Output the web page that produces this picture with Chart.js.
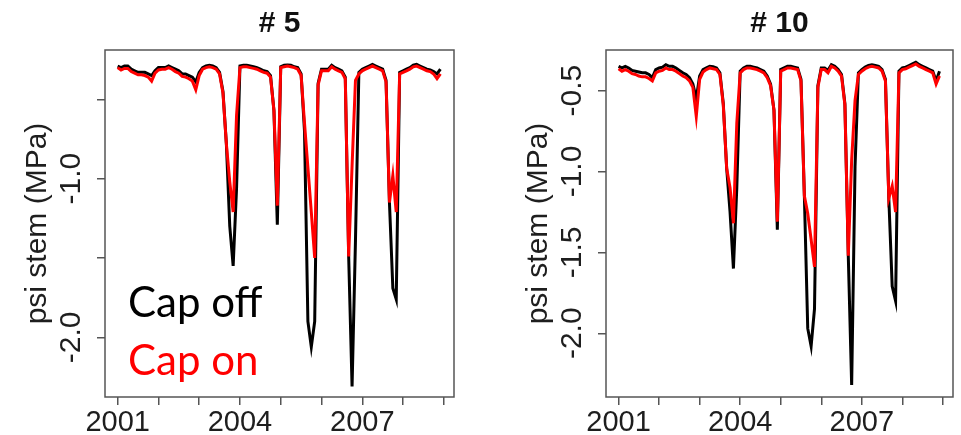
<!DOCTYPE html>
<html>
<head>
<meta charset="utf-8">
<script src="https://cdn.jsdelivr.net/npm/chart.js@4.4.1/dist/chart.umd.min.js"></script>
<style>
    body { margin: 0; background: #fff; }
    #page { position: relative; width: 961px; height: 435px; overflow: hidden; }
    .panel { position: absolute; top: 0; height: 435px; }
    #panel5 { left: 0; width: 480px; }
    #panel10 { left: 480px; width: 481px; }
    .note { position: absolute; left: 128px; font-family: Lato, "Open Sans", sans-serif; font-size: 42px; line-height: 42px; white-space: nowrap; }
    #capOff { top: 280px; color: #000; }
    #capOn { top: 338px; color: #ff0000; }
</style>
</head>
<body>
<div id="page">
    <div class="panel" id="panel5"><canvas id="chart5"></canvas></div>
    <div class="panel" id="panel10"><canvas id="chart10"></canvas></div>
    <div class="note" id="capOff">Cap off</div>
    <div class="note" id="capOn">Cap on</div>
</div>
<script>
// monthly series, Jan 2001 - Dec 2008
const years = [2001, 2002, 2003, 2004, 2005, 2006, 2007, 2008]
const yearTicks = [2001, 2002, 2003, 2004, 2005, 2006, 2007, 2008, 2009]
const labeledYears = [2001, 2004, 2007]
const psiTicks = [-0.5, -1.0, -1.5, -2.0]
const psiLabels5 = [-1.0, -2.0]
const psiLabels10 = [-0.5, -1.0, -1.5, -2.0]

const capOff5 = [
    -0.29, -0.30, -0.29, -0.29, -0.31, -0.32, -0.33, -0.33, -0.33, -0.34, -0.35, -0.32,
    -0.30, -0.30, -0.30, -0.29, -0.30, -0.31, -0.32, -0.34, -0.34, -0.35, -0.36, -0.39,
    -0.33, -0.30, -0.29, -0.285, -0.29, -0.30, -0.33, -0.45, -0.78, -1.30, -1.55, -1.06,
    -0.29, -0.285, -0.285, -0.29, -0.295, -0.30, -0.31, -0.32, -0.325, -0.35, -0.57, -1.29,
    -0.294, -0.285, -0.284, -0.285, -0.295, -0.30, -0.34, -0.70, -1.90, -2.06, -1.90, -0.40,
    -0.31, -0.31, -0.31, -0.285, -0.30, -0.31, -0.32, -0.36, -1.49, -2.31, -1.39, -0.33,
    -0.31, -0.30, -0.29, -0.28, -0.29, -0.30, -0.31, -0.38, -1.15, -1.69, -1.76, -0.33,
    -0.32, -0.31, -0.30, -0.285, -0.28, -0.29, -0.30, -0.31, -0.315, -0.325, -0.34, -0.31
]
const capOn5 = [
    -0.30, -0.315, -0.305, -0.305, -0.325, -0.335, -0.345, -0.345, -0.35, -0.36, -0.385, -0.335,
    -0.315, -0.31, -0.31, -0.30, -0.31, -0.325, -0.335, -0.355, -0.36, -0.37, -0.385, -0.44,
    -0.35, -0.31, -0.30, -0.295, -0.30, -0.31, -0.34, -0.46, -0.78, -1.02, -1.21, -0.60,
    -0.30, -0.295, -0.295, -0.30, -0.305, -0.31, -0.32, -0.33, -0.335, -0.36, -0.57, -1.17,
    -0.30, -0.295, -0.29, -0.295, -0.30, -0.31, -0.35, -0.65, -0.93, -1.21, -1.50, -0.41,
    -0.32, -0.32, -0.32, -0.295, -0.31, -0.32, -0.33, -0.37, -1.49, -0.92, -0.38, -0.34,
    -0.32, -0.31, -0.30, -0.29, -0.30, -0.31, -0.32, -0.39, -1.15, -0.98, -1.21, -0.34,
    -0.33, -0.32, -0.31, -0.295, -0.29, -0.30, -0.31, -0.32, -0.325, -0.34, -0.37, -0.34
]
const capOff10 = [
    -0.35, -0.36, -0.35, -0.36, -0.375, -0.38, -0.385, -0.39, -0.39, -0.40, -0.42, -0.37,
    -0.36, -0.355, -0.34, -0.35, -0.35, -0.36, -0.375, -0.39, -0.40, -0.42, -0.46, -0.55,
    -0.41, -0.37, -0.36, -0.35, -0.352, -0.36, -0.39, -0.58, -0.98, -1.25, -1.60, -1.10,
    -0.38, -0.36, -0.35, -0.35, -0.355, -0.36, -0.37, -0.38, -0.41, -0.46, -0.62, -1.36,
    -0.37, -0.36, -0.35, -0.35, -0.355, -0.36, -0.43, -1.15, -1.97, -2.08, -1.85, -0.47,
    -0.36, -0.36, -0.375, -0.34, -0.35, -0.37, -0.40, -0.58, -1.52, -2.32, -0.97, -0.39,
    -0.37, -0.355, -0.345, -0.34, -0.345, -0.35, -0.37, -0.43, -1.165, -1.71, -1.80, -0.38,
    -0.36, -0.355, -0.345, -0.335, -0.325, -0.34, -0.35, -0.36, -0.37, -0.38, -0.44, -0.38
]
const capOn10 = [
    -0.365, -0.38, -0.37, -0.38, -0.395, -0.40, -0.41, -0.415, -0.415, -0.425, -0.44, -0.39,
    -0.38, -0.375, -0.36, -0.37, -0.37, -0.38, -0.395, -0.41, -0.42, -0.44, -0.48, -0.66,
    -0.43, -0.385, -0.37, -0.36, -0.365, -0.37, -0.40, -0.59, -0.98, -1.10, -1.32, -0.70,
    -0.39, -0.37, -0.36, -0.36, -0.365, -0.37, -0.38, -0.39, -0.42, -0.47, -0.62, -1.31,
    -0.38, -0.37, -0.36, -0.36, -0.365, -0.37, -0.44, -1.15, -1.26, -1.42, -1.59, -0.48,
    -0.37, -0.37, -0.39, -0.35, -0.36, -0.38, -0.41, -0.59, -1.52, -0.93, -0.56, -0.40,
    -0.38, -0.365, -0.355, -0.35, -0.355, -0.36, -0.38, -0.44, -1.165, -1.09, -1.25, -0.39,
    -0.37, -0.365, -0.355, -0.345, -0.335, -0.35, -0.36, -0.37, -0.38, -0.39, -0.46, -0.41
]

const time = years.flatMap(y => Array.from({ length: 12 }, (_, i) => y + i / 12))

const fontFamily = "'Liberation Sans', Arial, Helvetica, sans-serif"
const axisColor = "#555"
const textColor = "#1e1e1e"

// R style box plus rotated y tick labels
const framePlugin = {
    id: "frame",
    afterDraw(chart, args, opts) {
        const { ctx, chartArea: a, scales } = chart
        ctx.save()
        ctx.strokeStyle = axisColor
        ctx.lineWidth = 1.5
        ctx.strokeRect(a.left, a.top, a.right - a.left, a.bottom - a.top)
        ctx.fillStyle = textColor
        ctx.font = "30px " + fontFamily
        ctx.textAlign = "center"
        ctx.textBaseline = "alphabetic"
        opts.labels.forEach(v => {
            ctx.save()
            ctx.translate(a.left - 25, scales.y.getPixelForValue(v))
            ctx.rotate(-Math.PI / 2)
            ctx.fillText(v.toFixed(1), 0, 0)
            ctx.restore()
        })
        ctx.restore()
    }
}

function series(values) {
    return values.map((v, i) => ({ x: time[i], y: v }))
}

function makeChart(id, title, off, on, yMin, yMax, labels, axisWidth, padRight, titlePad) {
    return new Chart(document.getElementById(id), {
        type: "line",
        data: {
            datasets: [
                { label: "Cap on", data: series(on), borderColor: "#ff0000", borderWidth: 3, pointRadius: 0, tension: 0 },
                { label: "Cap off", data: series(off), borderColor: "#000000", borderWidth: 3, pointRadius: 0, tension: 0 }
            ]
        },
        options: {
            responsive: true,
            maintainAspectRatio: false,
            animation: false,
            layout: { padding: { left: 0, right: padRight, top: 0, bottom: 0 } },
            plugins: {
                legend: { display: false },
                tooltip: { enabled: false },
                title: {
                    display: true,
                    text: title,
                    fullSize: false,
                    color: "#111",
                    font: { family: fontFamily, size: 30, weight: "bold", lineHeight: 1 },
                    padding: { top: 9, bottom: 11 }
                },
                frame: { labels: labels }
            },
            scales: {
                x: {
                    type: "linear",
                    min: 2000.69,
                    max: 2009.25,
                    afterBuildTicks: s => { s.ticks = yearTicks.map(v => ({ value: v })) },
                    afterFit: s => { s.height = 38 },
                    border: { display: false },
                    grid: { drawOnChartArea: false, drawTicks: true, tickLength: 8, color: axisColor, lineWidth: 1.5 },
                    ticks: {
                        autoSkip: false,
                        maxRotation: 0,
                        padding: 1,
                        color: textColor,
                        font: { family: fontFamily, size: 29 },
                        callback: v => labeledYears.includes(v) ? String(v) : ""
                    }
                },
                y: {
                    min: yMin,
                    max: yMax,
                    afterBuildTicks: s => { s.ticks = psiTicks.map(v => ({ value: v })) },
                    afterFit: s => { s.width = axisWidth },
                    border: { display: false },
                    grid: { drawOnChartArea: false, drawTicks: true, tickLength: 8, color: axisColor, lineWidth: 1.5 },
                    ticks: { display: false },
                    title: {
                        display: true,
                        text: "psi stem (MPa)",
                        color: textColor,
                        font: { family: fontFamily, size: 30, lineHeight: 1 },
                        padding: { top: titlePad, bottom: 0 }
                    }
                }
            }
        },
        plugins: [framePlugin]
    })
}

makeChart("chart5", "# 5", capOff5, capOn5, -2.376, -0.189, psiLabels5, 105, 26, 23)
makeChart("chart10", "# 10", capOff10, capOn10, -2.394, -0.249, psiLabels10, 126, 8, 44)
</script>
</body>
</html>
